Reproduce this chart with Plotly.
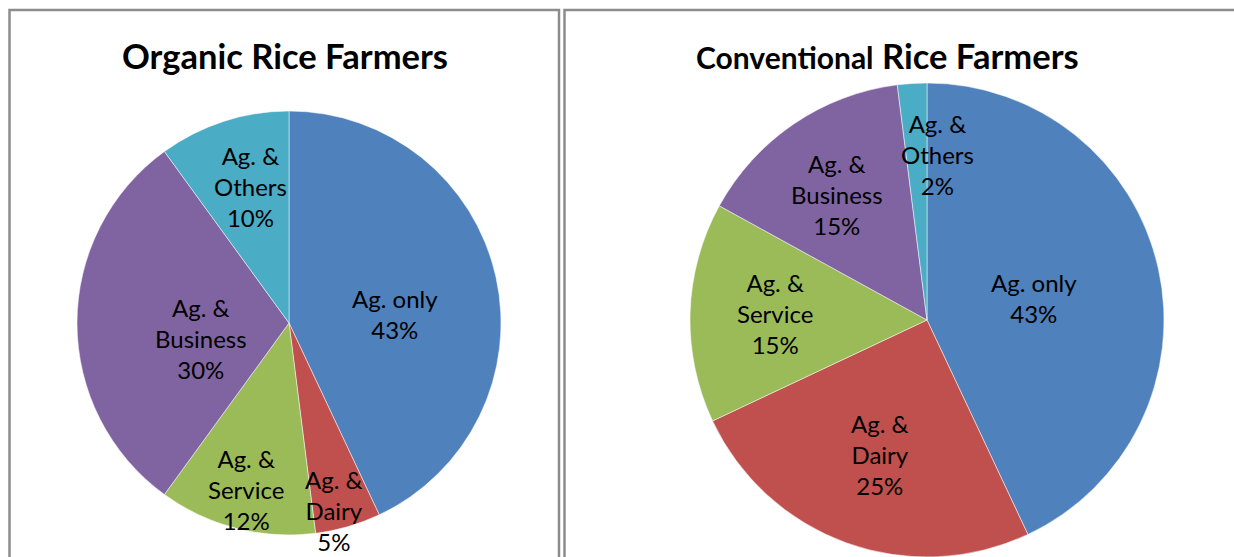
import math
import plotly.graph_objects as go

# ---------------- data ----------------
categories = ["Ag. only", "Ag. & Dairy", "Ag. & Service", "Ag. & Business", "Ag. & Others"]
label_lines = ["Ag. only", "Ag. &<br>Dairy", "Ag. &<br>Service", "Ag. &<br>Business", "Ag. &<br>Others"]
organic_pct = [43, 5, 12, 30, 10]
conventional_pct = [43, 25, 15, 15, 2]

# ---------------- style ----------------
colors = ["#4F81BD", "#C0504D", "#9BBB59", "#8064A2", "#4BACC6"]
W, H = 1234, 557
FONT = "Lato"
# pie boxes in pixels (x0, x1, ytop, ybottom)
organic_box = (77, 501, 111, 535)
conventional_box = (687, 1167, 83, 557)
# label placement (fraction of radius, angle tweak in degrees)
organic_lab_r = [0.50, 0.91, 0.81, 0.42, 0.67]
organic_lab_da = [8, 2.7, 0, -9.8, 2.1]
conv_lab_r = [0.46, 0.60, 0.64, 0.65, 0.70]
conv_lab_da = [0.7, -0.6, 0.8, -1.4, 7.3]


def px2paper_x(x):
    return x / W


def px2paper_y(y):
    return 1 - y / H


def make_pie(values, box):
    x0, x1, yt, yb = box
    return go.Pie(
        labels=categories,
        values=values,
        sort=False,
        direction="clockwise",
        rotation=0,
        textinfo="none",
        marker=dict(colors=colors, line=dict(color="white", width=0.5)),
        domain=dict(x=[px2paper_x(x0), px2paper_x(x1)], y=[px2paper_y(yb), px2paper_y(yt)]),
        showlegend=False,
        hovertemplate="%{label}: %{percent}<extra></extra>",
    )


def pie_labels(values, box, rfrac, dang):
    x0, x1, yt, yb = box
    r = min(x1 - x0, yb - yt) / 2
    cx = (x0 + x1) / 2
    cy = (yt + yb) / 2
    total = sum(values)
    cum = 0
    anns = []
    for i, v in enumerate(values):
        ang = math.radians((cum + v / 2) / total * 360 + dang[i])
        cum += v
        lx = cx + rfrac[i] * r * math.sin(ang)
        ly = cy - rfrac[i] * r * math.cos(ang)
        pct = round(v / total * 100)
        anns.append(dict(
            x=px2paper_x(lx), y=px2paper_y(ly), xref="paper", yref="paper",
            text=f"{label_lines[i]}<br>{pct}%", showarrow=False,
            xanchor="center", yanchor="middle", align="center",
            font=dict(family=FONT, size=24, color="black"),
        ))
    return anns


fig = go.Figure()
fig.add_trace(make_pie(organic_pct, organic_box))
fig.add_trace(make_pie(conventional_pct, conventional_box))

annotations = []
annotations += pie_labels(organic_pct, organic_box, organic_lab_r, organic_lab_da)
annotations += pie_labels(conventional_pct, conventional_box, conv_lab_r, conv_lab_da)
annotations.append(dict(
    x=px2paper_x(285), y=px2paper_y(55), xref="paper", yref="paper",
    text="<b>Organic Rice Farmers</b>", showarrow=False,
    xanchor="center", yanchor="middle",
    font=dict(family=FONT, size=34.5, color="black"),
))
annotations.append(dict(
    x=px2paper_x(887), y=px2paper_y(55), xref="paper", yref="paper",
    text="<b><span style='font-size:30px'>Conventional</span> Rice Farmers</b>",
    showarrow=False, xanchor="center", yanchor="middle",
    font=dict(family=FONT, size=34.5, color="black"),
))

shapes = [
    dict(type="rect", xref="paper", yref="paper",
         x0=px2paper_x(9.5), x1=px2paper_x(559), y0=-0.1, y1=px2paper_y(10),
         line=dict(color="#8c8c8c", width=2.5), fillcolor="rgba(0,0,0,0)", layer="below"),
    dict(type="rect", xref="paper", yref="paper",
         x0=px2paper_x(564.5), x1=1.1, y0=-0.1, y1=px2paper_y(10),
         line=dict(color="#8c8c8c", width=2.5), fillcolor="rgba(0,0,0,0)", layer="below"),
]

fig.update_layout(
    width=W, height=H,
    margin=dict(l=0, r=0, t=0, b=0),
    paper_bgcolor="white", plot_bgcolor="white",
    annotations=annotations, shapes=shapes,
    font=dict(family=FONT),
)

fig.write_html("out.html")
